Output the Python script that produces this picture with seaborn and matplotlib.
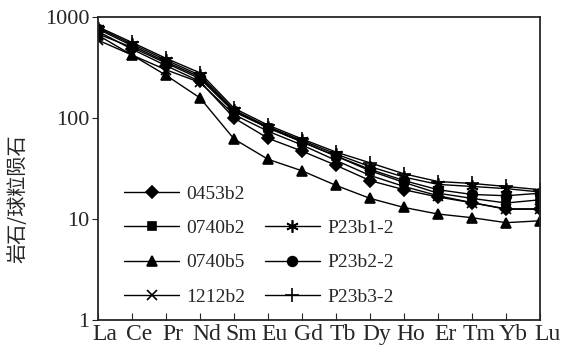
import matplotlib
matplotlib.use('Agg')
import matplotlib.pyplot as plt
from matplotlib.lines import Line2D
from matplotlib.transforms import ScaledTranslation
import seaborn as sns

elements = ['La', 'Ce', 'Pr', 'Nd', 'Sm', 'Eu', 'Gd', 'Tb', 'Dy', 'Ho', 'Er', 'Tm', 'Yb', 'Lu']

s0453b2 = [720, 480, 330, 230, 100, 63, 47, 34, 24, 19.5, 16.5, 14.5, 12.6, 12.6]
s0740b2 = [680, 500, 350, 245, 115, 80, 58, 42, 30, 23, 18, 16, 14.4, 15.5]
s0740b5 = [660, 420, 265, 158, 62, 39, 30, 21.5, 16, 13, 11.2, 10.3, 9.2, 9.6]
s1212b2 = [590, 420, 300, 225, 108, 74, 54, 38, 27, 21, 17, 14.5, 12.5, 12.5]
sP23b1 = [780, 540, 375, 265, 120, 82, 60, 44, 33, 26, 22, 21, 20, 18.5]
sP23b2 = [760, 520, 360, 255, 118, 80, 58, 42, 31, 24, 19.5, 17.5, 17, 18]
sP23b3 = [800, 560, 390, 280, 125, 85, 62, 46, 36, 28, 23.5, 22.5, 21, 19.5]

names = ['0453b2', '0740b2', '0740b5', '1212b2', 'P23b1-2', 'P23b2-2', 'P23b3-2']
series = [s0453b2, s0740b2, s0740b5, s1212b2, sP23b1, sP23b2, sP23b3]
markers = ['D', 's', '^', 'x', (6, 2, 0), 'o', '+']
msizes = [6, 6, 7, 7, 9, 7, 10]

sns.set_style('ticks')
plt.rcParams['font.family'] = ['Liberation Serif', 'DejaVu Serif']

fig = plt.figure(figsize=(5.62, 3.52), dpi=100)
ax = fig.add_axes([0.1744, 0.0909, 0.7866, 0.8608])

x = list(range(len(elements)))
handles = []
for name, vals, mk, ms in zip(names, series, markers, msizes):
    sns.lineplot(x=x, y=vals, ax=ax, color='black', linewidth=1.0,
                 marker=mk, markersize=ms, markeredgecolor='black',
                 markeredgewidth=1.2, legend=False)
    handles.append(Line2D([], [], color='black', linewidth=1.0, marker=mk,
                          markersize=ms, markeredgewidth=1.2, label=name))

ax.set_yscale('log')
ax.set_ylim(1, 1000)
ax.set_xlim(0, len(elements) - 1)
ax.set_yticks([1, 10, 100, 1000])
ax.set_yticklabels(['1', '10', '100', '1000'])
ax.minorticks_off()
ax.set_xticks(x)
ax.set_xticklabels(elements, fontsize=17)
ax.tick_params(axis='x', direction='in', length=5, pad=3)
ax.tick_params(axis='y', direction='out', length=4, labelsize=16, pad=2)
for lab in ax.get_xticklabels():
    lab.set_transform(lab.get_transform() + ScaledTranslation(5 / 72, 0, fig.dpi_scale_trans))
for sp in ax.spines.values():
    sp.set_linewidth(1.3)
    sp.set_visible(True)

ax.set_ylabel('岩石/球粒陨石', fontsize=14.5, family=['Noto Sans CJK SC', 'DejaVu Sans'])
ax.yaxis.set_label_coords(-0.158, 0.4)

blank = Line2D([], [], linestyle='none', marker=None, label=' ')
leg_handles = handles[:4] + [blank] + handles[4:]
ax.legend(handles=leg_handles, ncol=2, loc='lower left', bbox_to_anchor=(0.02, -0.01),
          frameon=False, fontsize=14, handlelength=2.8, handletextpad=0.4,
          columnspacing=1.0, labelspacing=0.85)

fig.savefig('out.png', dpi=100)
